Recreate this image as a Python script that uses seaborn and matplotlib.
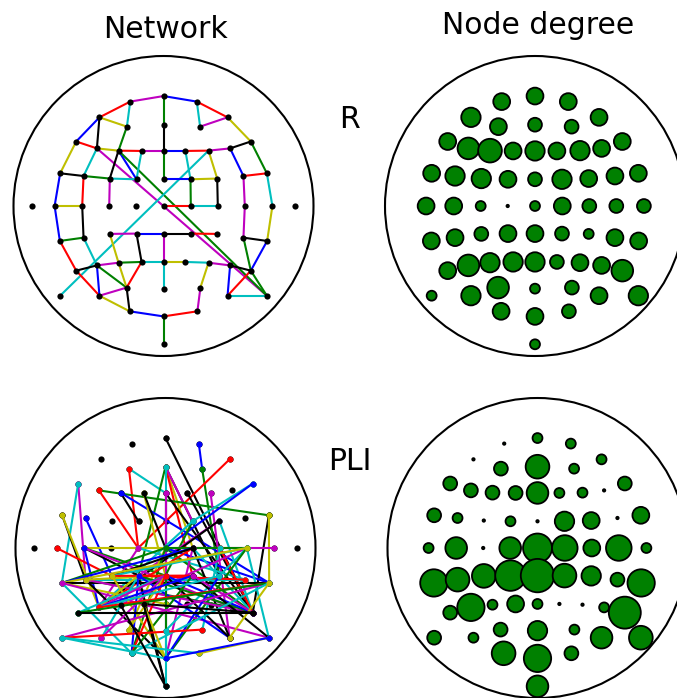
import numpy as np
import pandas as pd
import matplotlib
matplotlib.use("Agg")
import matplotlib.pyplot as plt
import seaborn as sns
from matplotlib.patches import Circle

sns.set_theme(style="white", color_codes=False)
plt.rcParams["font.family"] = ["DejaVu Sans"]
plt.rcParams["text.color"] = "black"

# ---- sensor layout (unit head radius) ----
electrodes = ["A1", "A2", "A3",
              "B1", "B2", "B3", "B4", "B5",
              "C1", "C2", "C3", "C4", "C5", "C6", "C7", "C8", "C9",
              "D1", "D2", "D3", "D4", "D5", "D6", "D7", "D8", "D9",
              "E1", "E2", "E3", "E4", "E5", "E6", "E7", "E8", "E9", "E10", "E11",
              "F1", "F2", "F3", "F4", "F5", "F6", "F7", "F8", "F9",
              "G1", "G2", "G3", "G4", "G5", "G6", "G7", "G8", "G9",
              "H1", "H2", "H3", "H4", "H5", "H6", "H7",
              "I1", "I2", "I3",
              "J1"]
elec_x = [-0.222, 0.0, 0.222,
          -0.427, -0.244, 0.0, 0.244, 0.427,
          -0.582, -0.444, -0.300, -0.146, 0.0, 0.146, 0.300, 0.444, 0.582,
          -0.689, -0.533, -0.358, -0.180, 0.0, 0.180, 0.358, 0.533, 0.689,
          -0.878, -0.726, -0.542, -0.362, -0.182, 0.0, 0.182, 0.362, 0.542, 0.726, 0.878,
          -0.691, -0.533, -0.358, -0.180, 0.0, 0.180, 0.358, 0.533, 0.691,
          -0.582, -0.444, -0.300, -0.146, 0.0, 0.146, 0.300, 0.444, 0.582,
          -0.689, -0.427, -0.246, 0.0, 0.246, 0.427, 0.689,
          -0.226, 0.0, 0.226,
          0.0]
elec_y = [0.696, 0.733, 0.696,
          0.591, 0.529, 0.542, 0.529, 0.591,
          0.430, 0.384, 0.369, 0.367, 0.367, 0.367, 0.369, 0.384, 0.430,
          0.218, 0.200, 0.183, 0.178, 0.178, 0.178, 0.183, 0.200, 0.218,
          0.0, 0.0, 0.0, 0.0, 0.0, 0.0, 0.0, 0.0, 0.0, 0.0, 0.0,
          -0.233, -0.211, -0.186, -0.184, -0.184, -0.184, -0.186, -0.211, -0.233,
          -0.431, -0.396, -0.378, -0.373, -0.373, -0.373, -0.378, -0.396, -0.431,
          -0.598, -0.598, -0.544, -0.551, -0.544, -0.598, -0.598,
          -0.702, -0.736, -0.702,
          -0.922]

# ---- thresholded networks: (node, node, colour) ----
r_edges = [
    ("A1", "A2", "m"), ("A2", "A3", "b"), ("A2", "B3", "g"), ("A1", "B1", "r"),
    ("A1", "B2", "c"), ("A3", "B4", "c"), ("A3", "B5", "r"), ("B4", "B5", "m"),
    ("B5", "C9", "y"), ("B1", "C1", "b"), ("B1", "B2", "y"), ("B1", "C2", "k"),
    ("B2", "C3", "g"), ("B3", "C5", "k"),
    ("C1", "C2", "r"), ("C1", "D1", "y"), ("C2", "C3", "y"), ("C2", "D2", "c"),
    ("C2", "H7", "m"), ("C3", "C4", "r"), ("C3", "D3", "k"), ("C3", "D4", "b"),
    ("C3", "H7", "g"), ("C4", "C5", "m"), ("C4", "D4", "c"), ("C5", "C6", "b"),
    ("C5", "D5", "g"), ("C6", "C7", "r"), ("C6", "D6", "c"), ("C7", "C8", "m"),
    ("C7", "D7", "y"), ("C7", "H1", "c"), ("C8", "C9", "k"), ("C8", "D8", "b"),
    ("C9", "D9", "g"),
    ("D1", "D2", "k"), ("D1", "E2", "b"), ("D2", "D3", "g"), ("D2", "E3", "r"),
    ("D3", "D4", "c"), ("D3", "E4", "m"), ("D5", "D6", "b"), ("D6", "D7", "y"),
    ("D6", "E7", "g"), ("D7", "E8", "k"), ("D8", "D9", "r"), ("D8", "E9", "m"),
    ("D9", "E10", "c"),
    ("E2", "E3", "y"), ("E2", "F1", "b"), ("E3", "F2", "k"), ("E6", "E7", "r"),
    ("E7", "E8", "c"), ("E9", "F8", "m"), ("E10", "F9", "y"),
    ("F1", "F2", "g"), ("F1", "G1", "r"), ("F2", "G2", "c"), ("F3", "F4", "m"),
    ("F3", "G3", "y"), ("F4", "F5", "b"), ("F4", "G4", "k"), ("F5", "F6", "k"),
    ("F5", "G5", "m"), ("F6", "F7", "r"), ("F8", "F9", "k"), ("F8", "G9", "g"),
    ("F9", "G9", "b"),
    ("G1", "G2", "k"), ("G1", "H2", "r"), ("G2", "G3", "m"), ("G2", "H2", "b"),
    ("G2", "H3", "g"), ("G3", "G4", "g"), ("G3", "H3", "y"), ("G4", "G5", "c"),
    ("G4", "H3", "r"), ("G5", "G6", "y"), ("G5", "H4", "c"), ("G6", "G7", "c"),
    ("G7", "G8", "m"), ("G7", "H5", "y"), ("G8", "G9", "k"), ("G8", "H6", "b"),
    ("G9", "H6", "r"), ("G9", "H7", "g"), ("H6", "H7", "c"),
    ("H2", "H3", "m"), ("H2", "I1", "y"), ("H3", "I1", "k"), ("H5", "I3", "m"),
    ("I1", "I2", "b"), ("I2", "I3", "r"), ("I2", "J1", "g"),
]

pli_edges = [
    ("A2", "G9", "k"), ("A3", "B4", "b"), ("B4", "F7", "g"), ("B5", "E5", "r"),
    ("B2", "C5", "c"), ("B2", "E5", "r"),
    ("B3", "F7", "k"), ("B3", "E7", "y"), ("B3", "F6", "r"), ("B3", "D6", "m"),
    ("B3", "F4", "g"), ("B3", "H4", "c"),
    ("C1", "F2", "m"), ("C1", "F1", "c"),
    ("C2", "D9", "g"), ("C2", "E5", "r"),
    ("C3", "D4", "k"), ("C3", "F9", "b"),
    ("C4", "F5", "y"), ("C4", "E6", "k"),
    ("C5", "E6", "c"), ("C5", "F5", "r"), ("C5", "G9", "k"), ("C5", "H4", "m"),
    ("C6", "G9", "k"), ("C7", "H6", "m"),
    ("C9", "D6", "c"), ("C9", "E6", "b"),
    ("D1", "F2", "k"), ("D1", "G2", "y"),
    ("D2", "F3", "b"),
    ("D6", "F5", "g"), ("D6", "G2", "c"),
    ("D7", "G9", "c"), ("D7", "F4", "m"), ("D7", "G2", "k"),
    ("D9", "G9", "k"), ("D9", "F9", "y"),
    ("E2", "F3", "r"), ("E10", "E7", "m"),
    ("E3", "E8", "y"), ("E3", "F4", "k"), ("E3", "F5", "g"), ("E3", "G8", "m"),
    ("E3", "G2", "b"),
    ("E5", "F8", "c"), ("E5", "G2", "m"),
    ("E6", "F1", "g"), ("E6", "G9", "g"), ("E6", "H3", "y"), ("E6", "I1", "g"),
    ("E6", "F9", "b"), ("E6", "E9", "g"),
    ("E7", "F1", "b"), ("E7", "G2", "r"), ("E7", "I2", "m"), ("E7", "G9", "c"),
    ("E7", "F3", "k"), ("E7", "H6", "k"),
    ("E8", "G9", "r"), ("E8", "H5", "c"),
    ("E9", "H7", "c"), ("E9", "F3", "c"), ("E9", "G3", "m"), ("E9", "H4", "c"),
    ("E9", "I2", "g"), ("E9", "F1", "y"),
    ("F1", "F9", "k"), ("F1", "G5", "y"), ("F1", "I1", "c"), ("F1", "H7", "m"),
    ("F2", "G8", "g"), ("F2", "I2", "k"), ("F2", "F8", "c"), ("F2", "G9", "m"),
    ("F2", "F5", "y"),
    ("F3", "F6", "r"), ("F3", "I2", "y"),
    ("F4", "J1", "k"), ("F4", "G9", "g"), ("F4", "H2", "c"), ("F4", "I1", "b"),
    ("F4", "G2", "y"), ("F4", "F8", "r"), ("F4", "H6", "b"),
    ("F5", "H2", "m"), ("F5", "H3", "y"), ("F5", "I2", "g"), ("F5", "G1", "c"),
    ("F5", "G9", "b"), ("F5", "H6", "k"), ("F5", "G2", "m"), ("F5", "I1", "r"),
    ("F6", "G2", "b"), ("F6", "I1", "g"), ("F6", "H7", "k"), ("F6", "G9", "m"),
    ("F7", "I2", "b"), ("F7", "G2", "c"),
    ("F9", "G2", "r"), ("F9", "H1", "m"), ("F9", "G1", "g"), ("F9", "I1", "c"),
    ("F9", "H6", "y"),
    ("G1", "G9", "k"),
    ("G4", "G9", "k"), ("G4", "I2", "y"), ("G4", "J1", "k"),
    ("H1", "H5", "r"), ("H1", "I2", "c"), ("H1", "I3", "c"),
    ("H4", "J1", "c"), ("H7", "I3", "y"), ("H7", "I2", "b"),
    ("G3", "J1", "k"),
]

# ---- node degree per sensor (outermost temporal pair not shown) ----
nan = np.nan
r_degree = [3, 3, 3,
            4, 3, 2, 2, 3,
            3, 5, 6, 3, 4, 3, 4, 3, 3,
            3, 4, 4, 3, 2, 4, 3, 3, 3,
            nan, 3, 3, 1, 0, 1, 3, 2, 2, 2, nan,
            3, 3, 2, 3, 3, 2, 1, 3, 3,
            3, 5, 4, 4, 4, 2, 3, 3, 5,
            1, 4, 5, 1, 2, 3, 4,
            3, 3, 2,
            1]
pli_degree = [0, 1, 1,
              0, 2, 6, 1, 1,
              2, 2, 2, 2, 5, 1, 1, 0, 2,
              2, 1, 0, 1, 0, 4, 3, 0, 3,
              nan, 1, 5, 0, 5, 9, 7, 3, 7, 1, nan,
              8, 6, 6, 10, 12, 6, 4, 2, 8,
              2, 8, 1, 3, 1, 0, 0, 1, 11,
              2, 1, 2, 4, 1, 5, 6,
              6, 8, 2,
              5]

column_titles = ["Network", "Node degree"]
row_labels = ["R", "PLI"]

pos = pd.DataFrame({"x": elec_x, "y": elec_y}, index=electrodes)

W, H = 677, 698
fig = plt.figure(figsize=(W / 100, H / 100), dpi=100)
fig.patch.set_facecolor("white")

RADIUS_PX = 150
LIM = 1.1


def head_axes(cx, cy):
    half = LIM * RADIUS_PX
    ax = fig.add_axes([(cx - half) / W, (H - cy - half) / H, 2 * half / W, 2 * half / H])
    ax.set_xlim(-LIM, LIM)
    ax.set_ylim(-LIM, LIM)
    ax.set_axis_off()
    ax.add_patch(Circle((0, 0), 1.0, fill=False, lw=1.5, edgecolor="black",
                        clip_on=False, zorder=0))
    return ax


def draw_network(ax, edges, end_dots):
    for a, b, c in edges:
        seg = pos.loc[[a, b]]
        ax.plot(seg["x"], seg["y"], color=c, lw=1.5, solid_capstyle="round",
                marker="o" if end_dots else None, ms=3.2, mec=c, mfc=c,
                zorder=2)
    sns.scatterplot(data=pos, x="x", y="y", color="black", s=20, linewidth=0,
                    ax=ax, legend=False, zorder=1 if end_dots else 3)
    ax.set_xlim(-LIM, LIM)
    ax.set_ylim(-LIM, LIM)
    ax.set_axis_off()


def draw_degree(ax, degree):
    df = pos.assign(degree=degree).dropna()
    sns.scatterplot(data=df, x="x", y="y", size="degree", sizes=(3, 579),
                    size_norm=(0, 12), color=(0.0, 0.5, 0.0),
                    edgecolor="black", linewidth=1.3, ax=ax, legend=False,
                    zorder=2)
    ax.set_xlim(-LIM, LIM)
    ax.set_ylim(-LIM, LIM)
    ax.set_axis_off()


ax_r_net = head_axes(163.5, 206)
draw_network(ax_r_net, r_edges, end_dots=False)
ax_r_deg = head_axes(535, 206)
draw_degree(ax_r_deg, r_degree)

ax_p_net = head_axes(165.5, 548)
draw_network(ax_p_net, pli_edges, end_dots=True)
ax_p_deg = head_axes(537.5, 548)
draw_degree(ax_p_deg, pli_degree)

fs = 21.5
fig.text(165 / W, 1 - 38 / H, column_titles[0], ha="center", va="baseline",
         fontsize=fs, color="black")
fig.text(538 / W, 1 - 34 / H, column_titles[1], ha="center", va="baseline",
         fontsize=fs, color="black")
fig.text(350 / W, 1 - 128 / H, row_labels[0], ha="center", va="baseline",
         fontsize=fs, color="black")
fig.text(350 / W, 1 - 470 / H, row_labels[1], ha="center", va="baseline",
         fontsize=fs, color="black")

fig.savefig("out.png", dpi=100, facecolor="white")
